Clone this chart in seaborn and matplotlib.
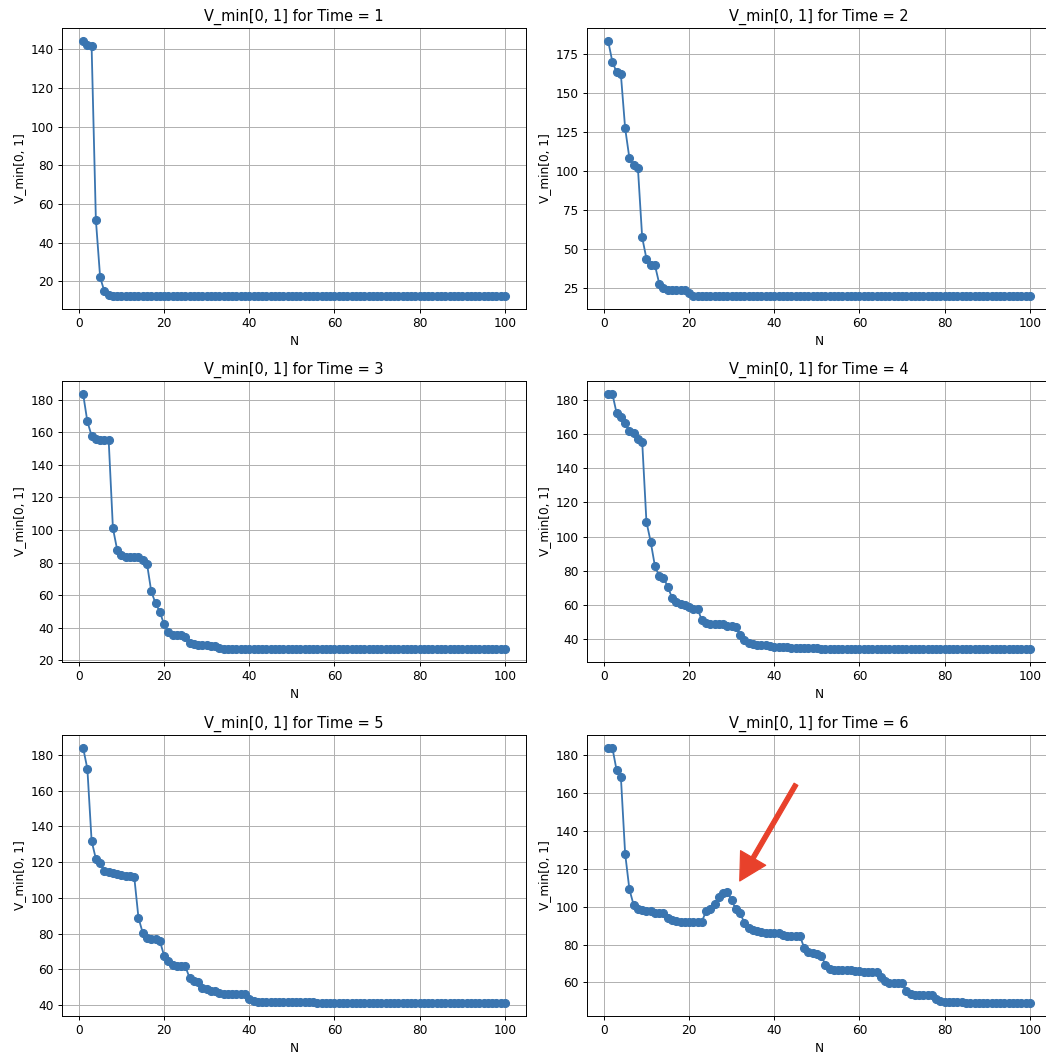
import matplotlib
matplotlib.use("Agg")
import matplotlib.pyplot as plt
import pandas as pd
import seaborn as sns

# Iteration counts N = 1..100
n_values = list(range(1, 101))

v_time1 = [
    144.4, 142.2, 141.5, 51.7, 22.0, 14.7, 13.0, 12.4, 12.2, 12.2,
    12.2, 12.2, 12.2, 12.2, 12.2, 12.2, 12.2, 12.2, 12.2, 12.2,
    12.2, 12.2, 12.2, 12.2, 12.2, 12.2, 12.2, 12.2, 12.2, 12.2,
    12.2, 12.2, 12.2, 12.2, 12.2, 12.2, 12.2, 12.2, 12.2, 12.2,
    12.2, 12.2, 12.2, 12.2, 12.2, 12.2, 12.2, 12.2, 12.2, 12.2,
    12.2, 12.2, 12.2, 12.2, 12.2, 12.2, 12.2, 12.2, 12.2, 12.2,
    12.2, 12.2, 12.2, 12.2, 12.2, 12.2, 12.2, 12.2, 12.2, 12.2,
    12.2, 12.2, 12.2, 12.2, 12.2, 12.2, 12.2, 12.2, 12.2, 12.2,
    12.2, 12.2, 12.2, 12.2, 12.2, 12.2, 12.2, 12.2, 12.2, 12.2,
    12.2, 12.2, 12.2, 12.2, 12.2, 12.2, 12.2, 12.2, 12.2, 12.2,
]

v_time2 = [
    183.7, 170.3, 163.5, 162.2, 127.7, 108.5, 103.8, 102.1, 57.7, 44.1,
    40.2, 39.8, 28.1, 25.3, 24.3, 24.0, 24.0, 24.0, 24.0, 22.3,
    20.4, 20.0, 20.0, 20.0, 20.0, 20.0, 20.0, 20.0, 20.0, 20.0,
    20.0, 20.0, 20.0, 20.0, 20.0, 20.0, 20.0, 20.0, 20.0, 20.0,
    20.0, 20.0, 20.0, 20.0, 20.0, 20.0, 20.0, 20.0, 20.0, 20.0,
    20.0, 20.0, 20.0, 20.0, 20.0, 20.0, 20.0, 20.0, 20.0, 20.0,
    20.0, 20.0, 20.0, 20.0, 20.0, 20.0, 20.0, 20.0, 20.0, 20.0,
    20.0, 20.0, 20.0, 20.0, 20.0, 20.0, 20.0, 20.0, 20.0, 20.0,
    20.0, 20.0, 20.0, 20.0, 20.0, 20.0, 20.0, 20.0, 20.0, 20.0,
    20.0, 20.0, 20.0, 20.0, 20.0, 20.0, 20.0, 20.0, 20.0, 20.0,
]

v_time3 = [
    183.7, 166.7, 157.9, 155.8, 155.4, 155.4, 155.4, 101.1, 87.8, 84.7,
    83.5, 83.3, 83.3, 83.2, 81.6, 79.2, 62.2, 55.0, 49.8, 42.0,
    37.0, 35.6, 35.4, 35.2, 34.0, 30.8, 29.8, 29.4, 29.2, 29.0,
    28.8, 28.4, 27.6, 27.0, 26.7, 26.7, 26.7, 26.7, 26.7, 26.7,
    26.7, 26.7, 26.7, 26.7, 26.7, 26.7, 26.7, 26.7, 26.7, 26.7,
    26.7, 26.7, 26.7, 26.7, 26.7, 26.7, 26.7, 26.7, 26.7, 26.7,
    26.7, 26.7, 26.7, 26.7, 26.7, 26.7, 26.7, 26.7, 26.7, 26.7,
    26.7, 26.7, 26.7, 26.7, 26.7, 26.7, 26.7, 26.7, 26.7, 26.7,
    26.7, 26.7, 26.7, 26.7, 26.7, 26.7, 26.7, 26.7, 26.7, 26.7,
    26.7, 26.7, 26.7, 26.7, 26.7, 26.7, 26.7, 26.7, 26.7, 26.7,
]

v_time4 = [
    183.5, 183.5, 172.2, 169.9, 166.4, 161.5, 160.5, 157.0, 155.6, 108.7,
    97.0, 82.7, 77.1, 76.1, 70.8, 64.4, 62.0, 60.9, 60.1, 59.0,
    58.0, 58.0, 51.2, 49.7, 49.3, 49.3, 49.3, 49.0, 47.9, 47.6,
    47.3, 42.6, 39.7, 38.1, 37.5, 36.9, 36.7, 36.5, 35.9, 35.7,
    35.6, 35.5, 35.4, 35.3, 35.1, 35.0, 35.0, 35.0, 35.0, 35.0,
    34.3, 34.3, 34.3, 34.3, 34.3, 34.3, 34.3, 34.3, 34.3, 34.3,
    34.3, 34.3, 34.3, 34.3, 34.3, 34.3, 34.3, 34.3, 34.3, 34.3,
    34.3, 34.3, 34.3, 34.3, 34.3, 34.3, 34.3, 34.3, 34.3, 34.3,
    34.3, 34.3, 34.3, 34.3, 34.3, 34.3, 34.3, 34.3, 34.3, 34.3,
    34.3, 34.3, 34.3, 34.3, 34.3, 34.3, 34.3, 34.3, 34.3, 34.3,
]

v_time5 = [
    184.1, 172.4, 131.9, 121.9, 119.4, 115.3, 114.4, 113.8, 113.4, 113.0,
    112.5, 112.1, 111.9, 88.8, 80.4, 77.6, 77.1, 76.9, 76.1, 67.7,
    64.4, 62.5, 61.6, 61.6, 61.6, 55.2, 53.3, 52.8, 49.4, 48.7,
    48.1, 47.6, 46.8, 46.3, 45.9, 45.9, 45.9, 45.9, 45.9, 43.4,
    42.2, 41.9, 41.9, 41.9, 41.5, 41.5, 41.5, 41.5, 41.5, 41.5,
    41.5, 41.5, 41.5, 41.5, 41.5, 41.0, 41.0, 41.0, 41.0, 41.0,
    41.0, 41.0, 41.0, 41.0, 41.0, 41.0, 41.0, 41.0, 41.0, 41.0,
    41.0, 41.0, 41.0, 41.0, 41.0, 41.0, 41.0, 41.0, 41.0, 41.0,
    41.0, 41.0, 41.0, 41.0, 41.0, 41.0, 41.0, 41.0, 41.0, 41.0,
    41.0, 41.0, 41.0, 41.0, 41.0, 41.0, 41.0, 41.0, 41.0, 41.0,
]

v_time6 = [
    184.0, 184.0, 172.1, 168.6, 128.1, 109.2, 100.9, 98.6, 98.1, 97.7,
    97.7, 96.8, 96.8, 96.5, 94.2, 92.8, 92.3, 92.1, 92.1, 92.1,
    92.1, 92.1, 92.1, 97.7, 99.0, 101.6, 105.3, 107.4, 107.8, 103.4,
    98.6, 96.8, 91.2, 88.9, 87.9, 87.2, 86.4, 86.0, 86.0, 86.0,
    86.0, 85.3, 84.7, 84.7, 84.7, 84.7, 78.4, 76.3, 75.4, 75.1,
    74.2, 69.4, 67.2, 66.7, 66.6, 66.5, 66.4, 66.3, 66.2, 66.0,
    65.4, 65.4, 65.4, 65.4, 62.8, 60.8, 59.9, 59.8, 59.8, 59.8,
    55.4, 53.7, 53.4, 53.4, 53.4, 53.4, 53.4, 51.0, 50.2, 49.8,
    49.8, 49.8, 49.8, 49.8, 49.0, 49.0, 49.0, 49.0, 49.0, 49.0,
    49.0, 49.0, 49.0, 49.0, 49.0, 49.0, 49.0, 49.0, 49.0, 49.0,
]

times = [1, 2, 3, 4, 5, 6]
series = [v_time1, v_time2, v_time3, v_time4, v_time5, v_time6]

LINE_COLOR = "#3a75b0"
ARROW_COLOR = "#e8412b"

DPI = 1046 / 12
fig = plt.figure(figsize=(12, 1055 / DPI), dpi=DPI)

col_left = [62 / 1046, 587 / 1046]
row_bottom = [(1055 - 309) / 1055, (1055 - 662) / 1055, (1055 - 1016) / 1055]
ax_w = 464 / 1046
ax_h = 281 / 1055

axes = []
for i, (t, vals) in enumerate(zip(times, series)):
    row, col = divmod(i, 2)
    ax = fig.add_axes([col_left[col], row_bottom[row], ax_w, ax_h])
    df = pd.DataFrame({"N": n_values, "V": vals})
    sns.lineplot(
        data=df, x="N", y="V", marker="o", color=LINE_COLOR,
        markersize=6.5, markeredgecolor=LINE_COLOR, markeredgewidth=1.0,
        linewidth=1.5, ax=ax,
    )
    ax.set_title(f"V_min[0, 1] for Time = {t}")
    ax.set_xlabel("N")
    ax.set_ylabel("V_min[0, 1]")
    ax.grid(True)
    axes.append(ax)

# Highlight the bump in the Time = 6 curve
axes[5].annotate(
    "",
    xy=(31.9, 113.6),
    xytext=(45.1, 164.7),
    arrowprops=dict(
        arrowstyle="simple,head_length=1.1,head_width=1.2,tail_width=0.18",
        color=ARROW_COLOR,
        shrinkA=0,
        shrinkB=0,
        mutation_scale=20,
    ),
)

fig.savefig("out.png", dpi=DPI)
